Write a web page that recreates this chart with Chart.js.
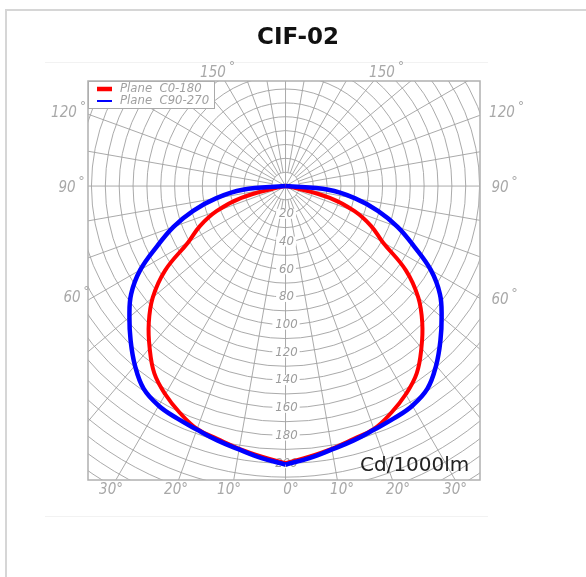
<!DOCTYPE html>
<html>
<head>
<meta charset="utf-8">
<script src="https://cdn.jsdelivr.net/npm/chart.js@4.4.0/dist/chart.umd.min.js"></script>
<style>
  html, body { margin: 0; padding: 0; background: #fff; overflow: hidden; }
  #frame { position: absolute; left: 5px; top: 9px; width: 600px; height: 600px;
           border-left: 2px solid #d6d6d6; border-top: 2px solid #d6d6d6; }
  #photometry { position: absolute; left: 0; top: 0; }
</style>
</head>
<body>
<div id="frame"></div>
<canvas id="photometry" width="586" height="577"></canvas>
<script>
// gamma angle from nadir (deg) and intensity (cd/1000lm), curves are symmetric
const gammaAngles = [0, 5, 10, 15, 20, 25, 30, 35, 40, 45, 50, 55, 60, 65, 70, 75, 80, 85, 90];
const planeC0_180 = [200, 196, 192.5, 189, 186.5, 180.5, 173.5, 165, 152.5, 139.5, 125, 106, 81, 68, 53, 33, 6, 0, 0];
const planeC90_270 = [201, 197, 193, 190, 187, 185, 183, 178.5, 169, 158, 147, 136, 121, 102, 86, 69, 51, 31, 0];

const ringLabels = [20, 40, 60, 80, 100, 120, 140, 160, 180, 200];
const sideLabels = ['150', '150', '120', '120', '90', '90', '60', '60'];
const bottomLabels = ['30°', '20°', '10°', '0°', '10°', '20°', '30°'];
const legendNames = ['Plane  C0-180', 'Plane  C90-270'];
const unitLabel = 'Cd/1000lm';
const chartTitle = 'CIF-02';

const sidePos = [[213, 73], [382, 73], [64, 113], [502, 113], [67, 188], [500, 188], [72, 298], [500, 300]];
const bottomPos = [111, 176, 229, 291, 342, 398, 455];

function halfCurve(values, sign) {
  return gammaAngles.map((g, i) => {
    const t = g * Math.PI / 180;
    return { x: sign * values[i] * Math.sin(t), y: -values[i] * Math.cos(t) };
  });
}

const polarGrid = {
  id: 'polarGrid',
  beforeDatasetsDraw(chart) {
    const { ctx, chartArea: a, scales: { x, y } } = chart;
    const cx = x.getPixelForValue(0), cy = y.getPixelForValue(0);
    const k = x.getPixelForValue(1) - cx;
    ctx.save();
    ctx.beginPath();
    ctx.rect(a.left, a.top, a.right - a.left, a.bottom - a.top);
    ctx.clip();
    ctx.strokeStyle = '#a0a0a0';
    ctx.lineWidth = 0.9;
    for (let r = 10; r <= 260; r += 10) {
      ctx.beginPath();
      ctx.arc(cx, cy, r * k, 0, 2 * Math.PI);
      ctx.stroke();
    }
    for (let g = 0; g < 360; g += 10) {
      const t = g * Math.PI / 180;
      const r0 = g % 30 === 0 ? 0 : 10;
      ctx.beginPath();
      ctx.moveTo(cx + r0 * k * Math.sin(t), cy + r0 * k * Math.cos(t));
      ctx.lineTo(cx + 260 * k * Math.sin(t), cy + 260 * k * Math.cos(t));
      ctx.stroke();
    }
    ctx.font = 'italic 13px "DejaVu Sans Condensed", "DejaVu Sans", sans-serif';
    ctx.textAlign = 'center';
    ctx.textBaseline = 'middle';
    ringLabels.forEach(v => {
      const py = cy + v * k;
      const w = ctx.measureText(String(v)).width;
      ctx.fillStyle = '#fff';
      ctx.fillRect(cx - w / 2 - 2, py - 5, w + 5, 10);
      ctx.fillStyle = '#9c9c9c';
      ctx.fillText(String(v), cx + 1, py);
    });
    ctx.restore();
  },
  afterDatasetsDraw(chart) {
    const { ctx, chartArea: a } = chart;
    ctx.save();
    // legend
    ctx.fillStyle = '#fff';
    ctx.fillRect(a.left, a.top, 126, 27);
    ctx.strokeStyle = '#aaa';
    ctx.lineWidth = 1;
    ctx.strokeRect(a.left + 0.5, a.top + 0.5, 126, 27);
    ctx.lineCap = 'butt';
    ctx.strokeStyle = '#ff0000';
    ctx.lineWidth = 4.5;
    ctx.beginPath(); ctx.moveTo(97, 89); ctx.lineTo(112, 89); ctx.stroke();
    ctx.strokeStyle = '#0000ff';
    ctx.lineWidth = 2;
    ctx.beginPath(); ctx.moveTo(97, 101); ctx.lineTo(112, 101); ctx.stroke();
    ctx.fillStyle = '#a0a0a0';
    ctx.font = 'italic 13px "DejaVu Sans Condensed", "DejaVu Sans", sans-serif';
    ctx.textAlign = 'left';
    ctx.textBaseline = 'middle';
    ctx.fillText(legendNames[0], 120, 89);
    ctx.fillText(legendNames[1], 120, 101);
    // unit
    ctx.fillStyle = '#222';
    ctx.font = '20px "DejaVu Sans", sans-serif';
    ctx.textBaseline = 'alphabetic';
    ctx.fillText(unitLabel, 360, 471);
    // plot frame
    ctx.strokeStyle = '#b0b0b0';
    ctx.lineWidth = 1.5;
    ctx.strokeRect(a.left, a.top, a.right - a.left, a.bottom - a.top);
    ctx.restore();
  },
  afterDraw(chart) {
    const { ctx } = chart;
    ctx.save();
    ctx.strokeStyle = '#f2f2f2';
    ctx.lineWidth = 1;
    ctx.beginPath();
    ctx.moveTo(45, 62.5); ctx.lineTo(488, 62.5);
    ctx.moveTo(45, 516.5); ctx.lineTo(488, 516.5);
    ctx.stroke();
    ctx.fillStyle = '#111';
    ctx.font = 'bold 23px "DejaVu Sans", sans-serif';
    ctx.textAlign = 'center';
    ctx.textBaseline = 'middle';
    ctx.fillText(chartTitle, 298, 38);
    ctx.fillStyle = '#a8a8a8';
    sideLabels.forEach((s, i) => {
      const [px, py] = sidePos[i];
      ctx.font = 'italic 15px "DejaVu Sans Condensed", "DejaVu Sans", sans-serif';
      const w = ctx.measureText(s).width;
      ctx.fillText(s, px, py);
      ctx.font = '13px "DejaVu Sans", sans-serif';
      ctx.fillText('°', px + w / 2 + 6, py - 6);
    });
    ctx.font = 'italic 15px "DejaVu Sans Condensed", "DejaVu Sans", sans-serif';
    bottomLabels.forEach((s, i) => ctx.fillText(s, bottomPos[i], 490));
    ctx.restore();
  }
};

const red = { borderColor: '#ff0000', borderWidth: 4, pointRadius: 0, showLine: true, tension: 0.4, order: 1 };
const blue = { borderColor: '#0000ff', borderWidth: 4.5, pointRadius: 0, showLine: true, tension: 0.4, order: 0 };

new Chart(document.getElementById('photometry'), {
  type: 'scatter',
  data: {
    datasets: [
      { ...blue, label: legendNames[1], data: halfCurve(planeC90_270, -1) },
      { ...blue, label: legendNames[1], data: halfCurve(planeC90_270, 1) },
      { ...red, label: legendNames[0], data: halfCurve(planeC0_180, -1) },
      { ...red, label: legendNames[0], data: halfCurve(planeC0_180, 1) }
    ]
  },
  options: {
    responsive: false,
    animation: false,
    layout: { padding: { left: 88, right: 106, top: 81, bottom: 97 } },
    scales: {
      x: { type: 'linear', min: -142.5, max: 140.3, display: false },
      y: { type: 'linear', min: -212.1, max: 75.8, display: false }
    },
    plugins: { legend: { display: false }, tooltip: { enabled: false }, title: { display: false } }
  },
  plugins: [polarGrid]
});
</script>
</body>
</html>
